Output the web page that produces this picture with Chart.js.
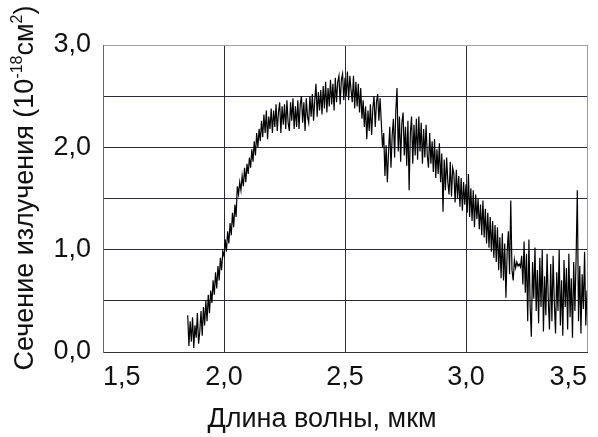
<!DOCTYPE html>
<html>
<head>
<meta charset="utf-8">
<script src="https://cdn.jsdelivr.net/npm/chart.js@4/dist/chart.umd.min.js"></script>
<style>
  html, body { margin: 0; padding: 0; background: #fff; }
  #wrap { width: 598px; height: 437px; position: relative; }
</style>
</head>
<body>
<div id="wrap"><canvas id="myChart"></canvas></div>
<script>
// wavelength grid of the trace (mkm)
var waveStart = 1.85;
var waveStep = 0.005;

// emission cross-section, 10^-18 cm^2, 10 points per 0.05 mkm
var crossSection = [
  0.36, 0.06, 0.30, 0.10, 0.34, 0.04, 0.26, 0.14, 0.38, 0.08,
  0.20, 0.40, 0.16, 0.44, 0.26, 0.50, 0.30, 0.56, 0.38, 0.60,
  0.48, 0.70, 0.56, 0.78, 0.62, 0.84, 0.70, 0.92, 0.80, 0.98,
  0.94, 1.10, 0.98, 1.18, 1.06, 1.26, 1.14, 1.36, 1.22, 1.44,
  1.32, 1.62, 1.54, 1.66, 1.58, 1.72, 1.62, 1.80, 1.66, 1.84,
  1.74, 1.90, 1.80, 1.98, 1.86, 2.06, 1.92, 2.14, 2.00, 2.18,
  2.06, 2.26, 2.10, 2.32, 2.14, 2.36, 2.08, 2.30, 2.18, 2.38,
  2.14, 2.36, 2.20, 2.42, 2.16, 2.34, 2.44, 2.14, 2.40, 2.22,
  2.42, 2.18, 2.46, 2.24, 2.16, 2.44, 2.26, 2.48, 2.18, 2.40,
  2.20, 2.46, 2.18, 2.42, 2.50, 2.24, 2.44, 2.16, 2.48, 2.30,
  2.24, 2.50, 2.30, 2.52, 2.26, 2.46, 2.62, 2.30, 2.54, 2.36,
  2.56, 2.32, 2.60, 2.38, 2.64, 2.34, 2.58, 2.40, 2.66, 2.42,
  2.62, 2.36, 2.68, 2.44, 2.64, 2.70, 2.42, 2.66, 2.72, 2.46,
  2.68, 2.50, 2.74, 2.46, 2.70, 2.56, 2.44, 2.70, 2.38, 2.64,
  2.40, 2.62, 2.34, 2.58, 2.28, 2.46, 2.20, 2.40, 2.08, 2.36,
  2.16, 2.42, 2.12, 2.38, 2.50, 2.20, 2.44, 2.52, 2.26, 2.48,
  2.24, 2.00, 2.14, 1.72, 2.02, 1.66, 1.96, 2.20, 1.80, 2.12,
  2.28, 1.90, 2.36, 2.58, 1.96, 2.30, 1.86, 2.24, 2.34, 1.92,
  2.20, 1.82, 2.26, 1.58, 2.14, 2.30, 1.84, 2.22, 1.92, 2.28,
  1.88, 2.30, 1.96, 2.24, 1.84, 2.18, 1.90, 2.22, 1.92, 1.80,
  2.14, 1.84, 2.06, 1.76, 2.08, 1.70, 1.98, 1.74, 2.04, 1.66,
  1.94, 1.37, 1.88, 1.58, 1.90, 1.66, 1.54, 1.86, 1.52, 1.80,
  1.74, 1.46, 1.78, 1.50, 1.72, 1.42, 1.70, 1.38, 1.66, 1.44,
  1.64, 1.36, 1.74, 1.32, 1.60, 1.28, 1.58, 1.22, 1.54, 1.30,
  1.50, 1.20, 1.44, 1.14, 1.48, 1.12, 1.40, 1.06, 1.36, 1.02,
  1.32, 0.98, 1.28, 0.92, 1.24, 0.88, 1.22, 0.80, 1.12, 0.72,
  1.16, 0.70, 1.06, 0.53, 0.98, 1.18, 0.76, 1.48, 0.80, 0.70,
  0.90, 0.82, 0.88, 0.84, 0.86, 0.83, 0.94, 0.66, 1.08, 0.58,
  0.96, 0.30, 1.10, 0.45, 0.15, 0.88, 0.52, 1.02, 0.40, 0.80,
  0.28, 0.92, 0.44, 1.00, 0.20, 0.74, 0.36, 0.96, 0.50, 0.22,
  0.86, 0.30, 0.94, 0.48, 0.18, 0.78, 0.40, 1.00, 0.26, 0.70,
  0.16, 0.90, 0.44, 0.82, 0.22, 0.96, 0.34, 0.72, 0.14, 0.88,
  0.40, 0.92, 1.58, 0.30, 0.84, 0.18, 0.76, 0.42, 0.98, 0.26,
  0.60
];

var xTitle = 'Длина волны, мкм';
var yTitleParts = [
  { text: 'Сечение излучения (10', sup: false },
  { text: '-18', sup: true },
  { text: 'см', sup: false },
  { text: '2', sup: true },
  { text: ')', sup: false }
];

var fontFamily = '"Liberation Sans", Arial, sans-serif';

var points = [];
for (var i = 0; i < crossSection.length; i++) {
  points.push({ x: waveStart + i * waveStep, y: crossSection[i] });
}

function commaLabel(v) {
  return v.toFixed(1).replace('.', ',');
}

// axis titles drawn by hand, the y one needs superscripts
var axisTitles = {
  id: 'axisTitles',
  afterDraw: function(chart) {
    var ctx = chart.ctx;
    ctx.save();
    ctx.fillStyle = '#111';
    ctx.textBaseline = 'alphabetic';
    ctx.font = '27px ' + fontFamily;
    ctx.textAlign = 'center';
    ctx.fillText(xTitle, 322, 427);

    ctx.textAlign = 'left';
    var total = 0;
    yTitleParts.forEach(function(p) {
      ctx.font = (p.sup ? '16px ' : '27px ') + fontFamily;
      p.w = ctx.measureText(p.text).width;
      total += p.w;
    });
    ctx.translate(33, 188);
    ctx.rotate(-Math.PI / 2);
    var pos = -total / 2;
    yTitleParts.forEach(function(p) {
      ctx.font = (p.sup ? '16px ' : '27px ') + fontFamily;
      ctx.fillText(p.text, pos, p.sup ? -11 : 0);
      pos += p.w;
    });
    ctx.restore();
  }
};

var ctx1 = document.getElementById('myChart');
var myChart = new Chart(ctx1, {
  type: 'line',
  data: {
    datasets: [{
      data: points,
      borderColor: '#000',
      borderWidth: 1.2,
      pointRadius: 0,
      tension: 0,
      fill: false
    }]
  },
  options: {
    responsive: true,
    maintainAspectRatio: false,
    animation: false,
    layout: { padding: { left: 0, right: 11, top: 45, bottom: 0 } },
    plugins: { legend: { display: false }, tooltip: { enabled: false } },
    scales: {
      x: {
        type: 'linear',
        min: 1.5,
        max: 3.5,
        afterFit: function(scale) { scale.height = 85; },
        ticks: {
          stepSize: 0.5,
          align: 'inner',
          padding: 9,
          color: '#111',
          font: { family: fontFamily, size: 27 },
          maxRotation: 0,
          callback: function(v) { return commaLabel(v); }
        },
        grid: {
          drawTicks: false,
          color: function(c) { return c.tick && c.tick.value === 3.5 ? '#9a9a9a' : '#2a2a48'; }
        },
        border: { color: '#333', width: 1 }
      },
      y: {
        min: 0,
        max: 3,
        afterFit: function(scale) { scale.width = 103; },
        ticks: {
          stepSize: 0.5,
          padding: 12,
          color: '#111',
          font: { family: fontFamily, size: 27 },
          callback: function(v) { return Math.abs(v - Math.round(v)) < 1e-6 ? commaLabel(v) : ''; }
        },
        grid: {
          drawTicks: false,
          color: function(c) { return c.tick && c.tick.value === 3 ? '#a0a0a0' : '#2a2a48'; }
        },
        border: { color: '#666', width: 1 }
      }
    }
  },
  plugins: [axisTitles]
});
</script>
</body>
</html>
